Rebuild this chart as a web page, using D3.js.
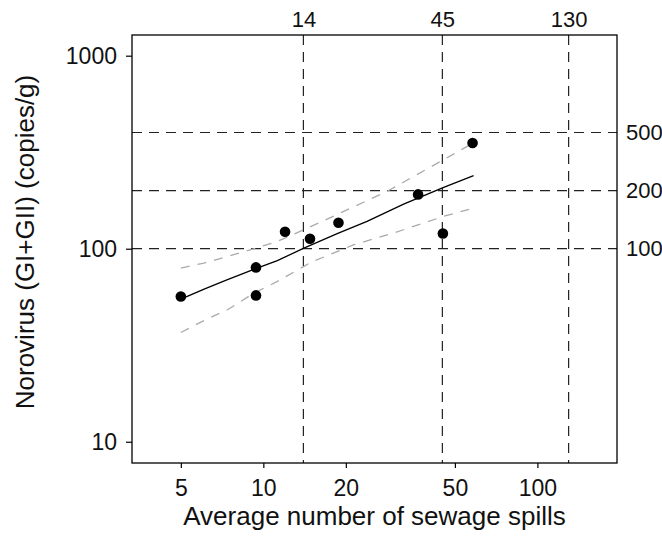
<!DOCTYPE html>
<html>
<head>
<meta charset="utf-8">
<script src="https://cdn.jsdelivr.net/npm/d3@7"></script>
<style>
  body { margin: 0; background: #fff; }
  text { font-family: "Liberation Sans", Arial, sans-serif; fill: #111; }
</style>
</head>
<body>
<div id="chart"></div>
<script>
// observed samples
const spills = [5, 9.4, 9.4, 12.0, 14.8, 18.8, 36.7, 45.2, 58.0];
const norovirus = [56.6, 80, 57.3, 122.5, 112.7, 136.4, 191.2, 120, 353];

// fitted line and confidence band
const fitX = [5, 6.08, 7.4, 9.38, 11.25, 14.06, 18.6, 23.9, 32.5, 45.5, 58.5];
const fitY = [54.8, 61.8, 69.1, 78.8, 86.7, 100.8, 119.6, 138.6, 170.4, 208, 239];
const upperX = [5, 6.08, 7.4, 9.0, 11.25, 14.06, 19.1, 28.3, 45.5, 56.1];
const upperY = [79.4, 84.3, 91.2, 98.8, 109.1, 125.5, 153.1, 198.3, 289.4, 342];
const lowerX = [5, 6.08, 7.4, 9.25, 11.25, 14.06, 14.87, 21.4, 29.9, 45.5, 58.5];
const lowerY = [36.8, 42.5, 48.3, 58.9, 67.7, 81, 84.9, 104.9, 120.6, 147.1, 162.5];

// axes
const xTicks = [5, 10, 20, 50, 100];
const yTicks = [10, 100, 1000];
const vLines = [14, 45, 130];
const hLines = [100, 200, 400];
const hLineLabels = ["100", "200", "500"];

const width = 662, height = 538;
const frame = { left: 132, right: 617, top: 35, bottom: 463 };

const svg = d3.select("#chart").append("svg")
    .attr("width", width)
    .attr("height", height);

const x = d3.scaleLog()
    .domain([3.317, 195.2])
    .range([frame.left, frame.right]);

const y = d3.scaleLog()
    .domain([7.76, 1280])
    .range([frame.bottom, frame.top]);

// dashed reference lines
svg.selectAll(".vline")
    .data(vLines)
    .enter()
    .append("line")
    .attr("x1", d => x(d))
    .attr("x2", d => x(d))
    .attr("y1", frame.top)
    .attr("y2", frame.bottom)
    .attr("stroke", "#222")
    .attr("stroke-width", 1.2)
    .attr("stroke-dasharray", "10,7");

svg.selectAll(".hline")
    .data(hLines)
    .enter()
    .append("line")
    .attr("x1", frame.left)
    .attr("x2", frame.right)
    .attr("y1", d => y(d))
    .attr("y2", d => y(d))
    .attr("stroke", "#222")
    .attr("stroke-width", 1.2)
    .attr("stroke-dasharray", "10,7");

// confidence band
const line = d3.line()
    .x(d => x(d[0]))
    .y(d => y(d[1]));

svg.append("path")
    .attr("d", line(d3.zip(upperX, upperY)))
    .attr("fill", "none")
    .attr("stroke", "#aaa")
    .attr("stroke-width", 1.3)
    .attr("stroke-dasharray", "9,8");

svg.append("path")
    .attr("d", line(d3.zip(lowerX, lowerY)))
    .attr("fill", "none")
    .attr("stroke", "#aaa")
    .attr("stroke-width", 1.3)
    .attr("stroke-dasharray", "9,8");

svg.append("path")
    .attr("d", line(d3.zip(fitX, fitY)))
    .attr("fill", "none")
    .attr("stroke", "#000")
    .attr("stroke-width", 1.3);

svg.selectAll(".dot")
    .data(d3.zip(spills, norovirus))
    .enter()
    .append("circle")
    .attr("class", "dot")
    .attr("cx", d => x(d[0]))
    .attr("cy", d => y(d[1]))
    .attr("r", 5.3)
    .attr("fill", "#000");

// frame
svg.append("rect")
    .attr("x", frame.left)
    .attr("y", frame.top)
    .attr("width", frame.right - frame.left)
    .attr("height", frame.bottom - frame.top)
    .attr("fill", "none")
    .attr("stroke", "#000")
    .attr("stroke-width", 1.3);

const bottomAxis = svg.append("g")
    .attr("transform", "translate(0," + frame.bottom + ")")
    .call(d3.axisBottom(x).tickValues(xTicks).tickFormat(d3.format("d")).tickSize(5).tickPadding(12));

const leftAxis = svg.append("g")
    .attr("transform", "translate(" + frame.left + ",0)")
    .call(d3.axisLeft(y).tickValues(yTicks).tickFormat(d3.format("d")).tickSize(6).tickPadding(9));

const topAxis = svg.append("g")
    .attr("transform", "translate(0," + frame.top + ")")
    .call(d3.axisTop(x).tickValues(vLines).tickFormat(d3.format("d")).tickSize(0).tickPadding(8));

const rightAxis = svg.append("g")
    .attr("transform", "translate(" + frame.right + ",0)")
    .call(d3.axisRight(y).tickValues(hLines).tickFormat((d, i) => hLineLabels[i]).tickSize(0).tickPadding(9));

[[bottomAxis, 23], [leftAxis, 23], [topAxis, 22], [rightAxis, 22]].forEach(([g, size]) => {
    g.select(".domain").remove();
    g.selectAll("line").attr("stroke", "#000").attr("stroke-width", 1.2);
    g.selectAll("text")
        .attr("font-family", "Liberation Sans, Arial, sans-serif")
        .attr("font-size", size)
        .attr("fill", "#111");
});

svg.append("text")
    .attr("x", (frame.left + frame.right) / 2)
    .attr("y", 525)
    .attr("text-anchor", "middle")
    .attr("font-size", 26)
    .text("Average number of sewage spills");

svg.append("text")
    .attr("transform", "translate(34," + 242 + ") rotate(-90)")
    .attr("text-anchor", "middle")
    .attr("font-size", 26)
    .text("Norovirus (GI+GII) (copies/g)");
</script>
</body>
</html>
